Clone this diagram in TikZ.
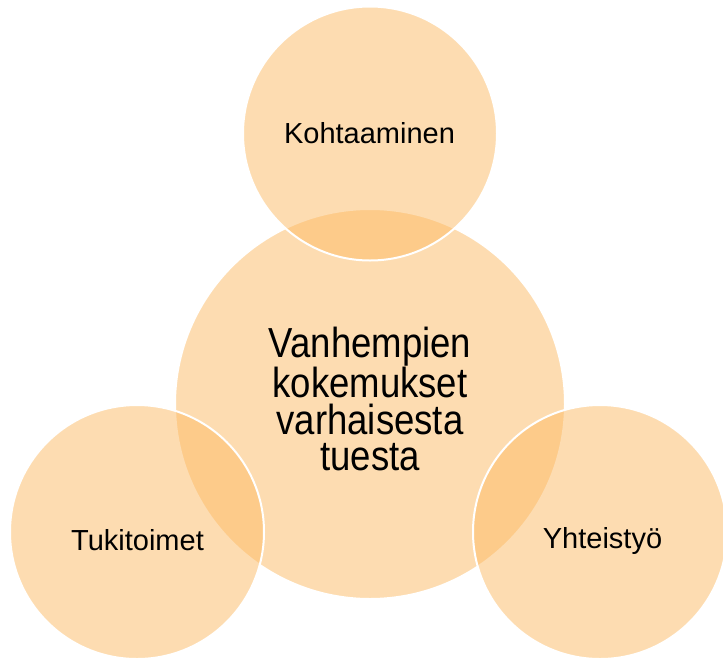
\documentclass[tikz,border=0pt]{standalone}
\usepackage{fontspec}
\setmainfont{Liberation Sans}
\newfontfamily\narrowfont[FakeStretch=0.87]{Liberation Sans}

\definecolor{peach}{RGB}{252,186,100}

\tikzset{
    venn circle/.style={fill=peach, fill opacity=0.5, draw=white, line width=2pt},
    venn label/.style={anchor=base, font=\fontsize{29}{35}\selectfont},
    main label/.style={align=center, font=\narrowfont\fontsize{42}{36.7}\selectfont}
}

\begin{document}
\begin{tikzpicture}[x=1pt, y=-1pt]
        \useasboundingbox (0, 0) rectangle (723, 662);

        % the middle circle first, the three small ones over it
        \draw[venn circle] (370, 404) circle (195);
        \draw[venn circle] (370, 133.5) circle (127);
        \draw[venn circle] (137, 532) circle (127);
        \draw[venn circle] (600, 532) circle (127);

        \node[main label] (kokemukset) at (370, 399) {Vanhempien\\kokemukset\\varhaisesta\\tuesta};
        \node[venn label] (kohtaaminen) at (369.5, 143.3) {Kohtaaminen};
        \node[venn label] (tukitoimet) at (137.5, 550) {Tukitoimet};
        \node[venn label] (yhteistyo) at (602.5, 548.5) {Yhteistyö};
    \end{tikzpicture}
\end{document}
